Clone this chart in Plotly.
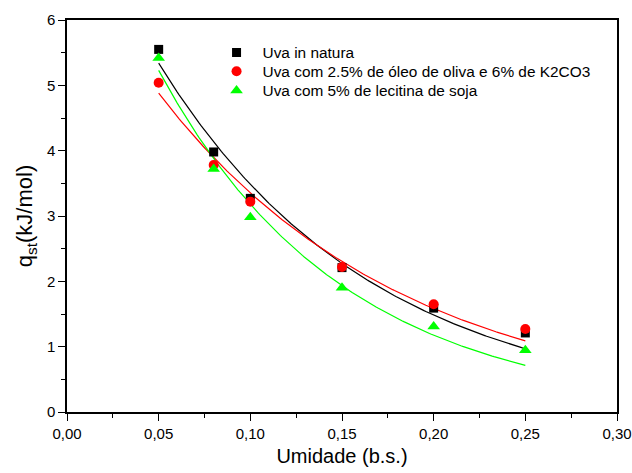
import numpy as np
import plotly.graph_objects as go

umidade = [0.05, 0.08, 0.10, 0.15, 0.20, 0.25]
in_natura = [5.55, 3.98, 3.27, 2.21, 1.59, 1.21]
oleo_k2co3 = [5.04, 3.78, 3.22, 2.22, 1.65, 1.27]
lecitina = [5.42, 3.72, 2.98, 1.90, 1.31, 0.945]

names = ["Uva in natura",
         "Uva com 2.5% de óleo de oliva e 6% de K2CO3",
         "Uva com 5% de lecitina de soja"]
colors = ["#000000", "#FF0000", "#00FF00"]
symbols = ["square", "circle", "triangle-up"]
legend_ids = ["legend", "legend2", "legend3"]
legend_y = [0.916, 0.868, 0.819]


def exp_fit(x, y):
    """Non-linear least-squares fit of y = a*exp(-b*x)."""
    x = np.asarray(x, float)
    y = np.asarray(y, float)
    best = None
    for b in np.linspace(0.5, 30, 6000):
        e = np.exp(-b * x)
        a = np.sum(y * e) / np.sum(e * e)
        err = np.sum((a * e - y) ** 2)
        if best is None or err < best[0]:
            best = (err, a, b)
    _, a, b = best
    return lambda xx: a * np.exp(-b * np.asarray(xx))


fig = go.Figure()
xs = np.linspace(min(umidade), max(umidade), 200)
series = [in_natura, oleo_k2co3, lecitina]
for vals, col in zip(series, colors):
    f = exp_fit(umidade, vals)
    fig.add_trace(go.Scatter(x=xs, y=f(xs), mode="lines",
                             line=dict(color=col, width=1.2), showlegend=False,
                             hoverinfo="skip"))
for vals, name, col, sym, lg in zip(series, names, colors, symbols, legend_ids):
    fig.add_trace(go.Scatter(x=umidade, y=vals, mode="markers", name=name, legend=lg,
                             marker=dict(color=col, symbol=sym,
                                         size={"square": 9, "circle": 10, "triangle-up": 11}[sym],
                                         line=dict(width=0))))

axis_common = dict(showline=True, linecolor="black", linewidth=1.5, mirror=True,
                   ticks="outside", ticklen=7, tickwidth=1.3, tickcolor="black",
                   showgrid=False, zeroline=False, automargin=False,
                   tickfont=dict(family="Liberation Sans, Arial", size=15, color="black"))

legend_common = dict(x=0.261, xanchor="left", yanchor="middle",
                     bgcolor="rgba(0,0,0,0)", borderwidth=0, itemwidth=42,
                     font=dict(family="Liberation Sans, Arial", size=15.4, color="black"),
                     itemsizing="trace")

fig.update_layout(
    width=632, height=473,
    margin=dict(l=67, r=15, t=20, b=61, autoexpand=False),
    paper_bgcolor="white", plot_bgcolor="white",
    separators=",.",
    font=dict(family="Liberation Sans, Arial", color="black"),
    xaxis=dict(range=[0, 0.30], dtick=0.05, tick0=0, tickformat=".2f",
               minor=dict(ticks="outside", ticklen=4, dtick=0.025, tickcolor="black", tickwidth=1.3),
               title=dict(text="Umidade (b.s.)", font=dict(size=20), standoff=8),
               **axis_common),
    yaxis=dict(range=[0, 6], dtick=1, tick0=0,
               minor=dict(ticks="outside", ticklen=4, dtick=0.5, tickcolor="black", tickwidth=1.3),
               title=dict(text="q<sub>st</sub>(kJ/mol)", font=dict(size=22), standoff=8),
               **axis_common),
    legend=dict(y=legend_y[0], **legend_common),
    legend2=dict(y=legend_y[1], **legend_common),
    legend3=dict(y=legend_y[2], **legend_common),
)

fig.write_html("out.html")
